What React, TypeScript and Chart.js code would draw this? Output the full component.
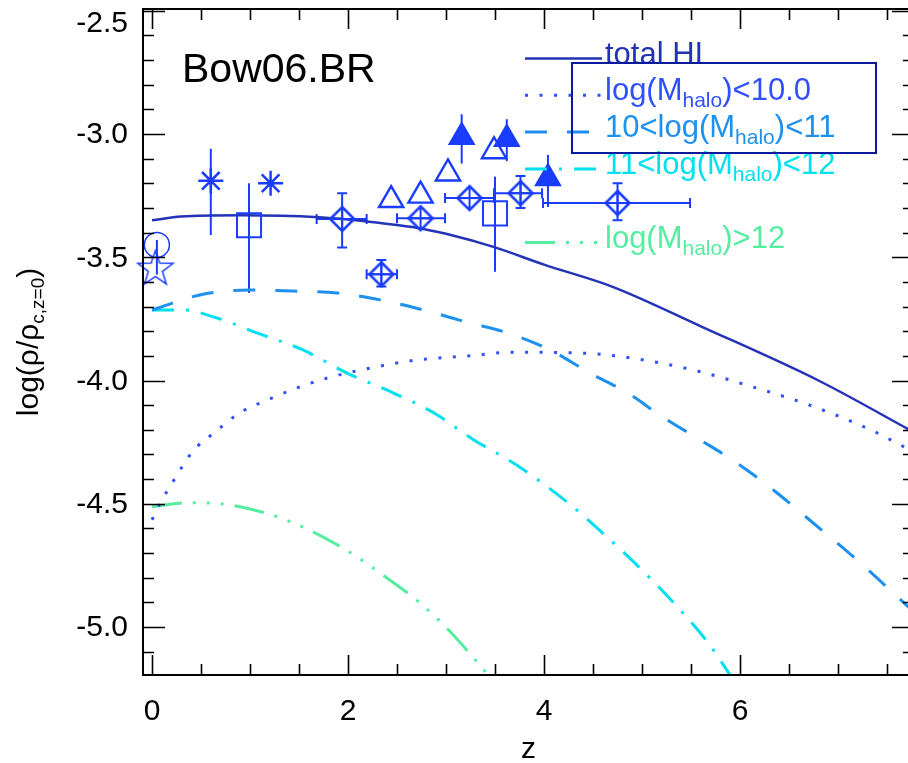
import React, { useEffect, useRef } from 'react';
import { Chart, registerables } from 'chart.js';

Chart.register(...registerables);

const FONT = '"Liberation Sans", Arial, Helvetica, sans-serif';

// Axis ranges and ticks
const zMin = -0.0918;
const zMax = 7.775;
const vMin = -5.1947;
const vMax = -2.4929;
const xMajorStep = 2;
const xMinorStep = 0.5;
const xTickValues = [0, 2, 4, 6];
const xTickLabels = ['0', '2', '4', '6'];
const yMajorStep = 0.5;
const yMinorStep = 0.1;
const yTickValues = [-2.5, -3.0, -3.5, -4.0, -4.5, -5.0];
const yTickLabels = ['-2.5', '-3.0', '-3.5', '-4.0', '-4.5', '-5.0'];

// Model curves
const totalZ = [0, 0.3, 0.9, 1.7, 2.2, 2.7, 3.0, 3.5, 4.0, 4.7, 5.6, 6.8, 7.775];
const totalV = [-3.35, -3.335, -3.33, -3.338, -3.355, -3.38, -3.405, -3.46, -3.53, -3.62, -3.78, -4.0, -4.21];

const lt10Z = [0, 0.08, 0.23, 0.41, 0.64, 0.9, 1.17, 1.48, 1.79, 2.22, 2.7, 3.32, 3.65, 4.44, 4.91, 5.52, 6.13, 6.71, 7.33, 7.775];
const lt10V = [-4.565, -4.5, -4.4, -4.29, -4.21, -4.13, -4.08, -4.03, -3.99, -3.95, -3.917, -3.897, -3.885, -3.89, -3.91, -3.957, -4.026, -4.1, -4.2, -4.29];

const m1011Z = [0, 0.18, 0.52, 1.0, 1.44, 1.89, 2.33, 2.77, 3.21, 3.65, 4.06, 4.47, 4.85, 5.21, 5.59, 5.97, 6.34, 6.71, 7.2, 7.775];
const m1011V = [-3.714, -3.69, -3.65, -3.633, -3.637, -3.645, -3.673, -3.714, -3.763, -3.81, -3.876, -3.97, -4.05, -4.148, -4.24, -4.335, -4.444, -4.566, -4.73, -4.94];

const m1112Z = [0, 0.32, 0.66, 1.07, 1.54, 1.99, 2.46, 2.87, 3.28, 3.72, 4.25, 4.64, 5.0, 5.36, 5.68, 5.9];
const m1112V = [-3.714, -3.714, -3.746, -3.807, -3.876, -3.97, -4.05, -4.13, -4.24, -4.343, -4.498, -4.634, -4.769, -4.918, -5.067, -5.195];

const gt12Z = [0, 0.28, 0.45, 0.8, 1.17, 1.57, 2.01, 2.38, 2.74, 3.06, 3.43];
const gt12V = [-4.512, -4.498, -4.496, -4.505, -4.539, -4.6, -4.695, -4.796, -4.904, -5.026, -5.195];

// Observational estimates
const starZ = [0.035];
const starV = [-3.54];

const circleZ = [0.05];
const circleV = [-3.45];
const circleLo = [-3.57];
const circleHi = [-3.43];

const asteriskZ = [0.6, 1.21];
const asteriskV = [-3.19, -3.2];
const asteriskLo = [-3.41, null];
const asteriskHi = [-3.06, null];

const squareZ = [0.99, 3.5];
const squareV = [-3.37, -3.322];
const squareLo = [-3.645, -3.559];
const squareHi = [-3.2, -3.173];

const diamondZ = [1.94, 2.34, 2.74, 3.24, 3.76, 4.75];
const diamondV = [-3.345, -3.569, -3.342, -3.26, -3.24, -3.28];
const diamondLo = [-3.46, -3.619, null, null, -3.3, -3.35];
const diamondHi = [-3.24, -3.511, null, null, -3.17, -3.2];
const diamondZLo = [1.68, 2.19, 2.5, 2.99, 3.49, 3.99];
const diamondZHi = [2.19, 2.5, 2.99, 3.49, 3.98, 5.49];

const openTriZ = [2.44, 2.74, 3.02, 3.49];
const openTriV = [-3.268, -3.25, -3.16, -3.07];

const fillTriZ = [3.16, 3.62, 4.04];
const fillTriV = [-3.012, -3.02, -3.18];
const fillTriLo = [-3.12, -3.11, -3.296];
const fillTriHi = [-2.92, -2.94, -3.085];

// Colours and line styles
const C_TOTAL = '#2233b8';
const C_LT10 = '#3050ff';
const C_1011 = '#1e90ee';
const C_1112 = '#00e0f0';
const C_GT12 = '#55eea0';
const C_DATA = '#1a3cff';
const C_BOX = '#0a1a9c';

const DASH_LT10 = [3, 11.5];
const DASH_1011 = [22, 20];
const DASH_1112 = [22, 12, 3, 12];
const DASH_GT12 = [30, 11, 3, 11, 3, 11, 3, 11];

const legendItems = [
  { parts: [{ t: 'total HI' }], color: C_TOTAL, dash: [] as number[], row: 0 },
  { parts: [{ t: 'log(M' }, { t: 'halo', sub: true }, { t: ')<10.0' }], color: C_LT10, dash: DASH_LT10, row: 1 },
  { parts: [{ t: '10<log(M' }, { t: 'halo', sub: true }, { t: ')<11' }], color: C_1011, dash: DASH_1011, row: 2 },
  { parts: [{ t: '11<log(M' }, { t: 'halo', sub: true }, { t: ')<12' }], color: C_1112, dash: DASH_1112, row: 3 },
  { parts: [{ t: 'log(M' }, { t: 'halo', sub: true }, { t: ')>12' }], color: C_GT12, dash: DASH_GT12, row: 5 },
];

type Part = { t: string; sub?: boolean };

const pts = (zs: number[], vs: number[]) => zs.map((z, i) => ({ x: z, y: vs[i] }));

function drawParts(ctx: CanvasRenderingContext2D, parts: Part[], x: number, y: number, size: number, subSize: number, drop: number, measureOnly = false) {
  let cx = x;
  for (const p of parts) {
    ctx.font = `${p.sub ? subSize : size}px ${FONT}`;
    if (!measureOnly) ctx.fillText(p.t, cx, y + (p.sub ? drop : 0));
    cx += ctx.measureText(p.t).width;
  }
  return cx - x;
}

function makeDiamondPlus(color: string) {
  const s = 32;
  const c = document.createElement('canvas');
  c.width = s;
  c.height = s;
  const g = c.getContext('2d')!;
  const h = s / 2;
  const r = 12;
  g.strokeStyle = color;
  g.lineWidth = 2.6;
  g.beginPath();
  g.moveTo(h, h - r);
  g.lineTo(h + r, h);
  g.lineTo(h, h + r);
  g.lineTo(h - r, h);
  g.closePath();
  g.stroke();
  g.lineWidth = 2;
  g.beginPath();
  g.moveTo(h, h - r);
  g.lineTo(h, h + r);
  g.moveTo(h - r, h);
  g.lineTo(h + r, h);
  g.stroke();
  return c;
}

function makeStar5(color: string) {
  const s = 44;
  const c = document.createElement('canvas');
  c.width = s;
  c.height = s;
  const g = c.getContext('2d')!;
  const h = s / 2;
  const R = 18.5;
  const r = R * 0.4;
  g.strokeStyle = color;
  g.lineWidth = 1.5;
  g.beginPath();
  for (let i = 0; i < 10; i++) {
    const a = -Math.PI / 2 + (i * Math.PI) / 5;
    const rr = i % 2 === 0 ? R : r;
    const px = h + rr * Math.cos(a);
    const py = h + 2 + rr * Math.sin(a);
    if (i === 0) g.moveTo(px, py);
    else g.lineTo(px, py);
  }
  g.closePath();
  g.stroke();
  return c;
}

type ErrGroup = {
  z: number[];
  v: number[];
  lo?: (number | null)[];
  hi?: (number | null)[];
  zlo?: (number | null)[];
  zhi?: (number | null)[];
  cap: number;
};

const errGroups: ErrGroup[] = [
  { z: circleZ, v: circleV, lo: circleLo, hi: circleHi, cap: 0 },
  { z: asteriskZ, v: asteriskV, lo: asteriskLo, hi: asteriskHi, cap: 0 },
  { z: squareZ, v: squareV, lo: squareLo, hi: squareHi, cap: 0 },
  { z: fillTriZ, v: fillTriV, lo: fillTriLo, hi: fillTriHi, cap: 0 },
  { z: diamondZ, v: diamondV, lo: diamondLo, hi: diamondHi, zlo: diamondZLo, zhi: diamondZHi, cap: 5 },
];

const errorBarPlugin = {
  id: 'errorBars',
  beforeDatasetsDraw(chart: any) {
    const { ctx, scales } = chart;
    const xs = scales.x;
    const ys = scales.y;
    ctx.save();
    ctx.strokeStyle = C_DATA;
    ctx.lineWidth = 2;
    for (const g of errGroups) {
      g.z.forEach((z, i) => {
        const px = xs.getPixelForValue(z);
        const py = ys.getPixelForValue(g.v[i]);
        const lo = g.lo ? g.lo[i] : null;
        const hi = g.hi ? g.hi[i] : null;
        if (lo != null && hi != null) {
          const y1 = ys.getPixelForValue(lo);
          const y2 = ys.getPixelForValue(hi);
          ctx.beginPath();
          ctx.moveTo(px, y1);
          ctx.lineTo(px, y2);
          if (g.cap) {
            ctx.moveTo(px - g.cap, y1);
            ctx.lineTo(px + g.cap, y1);
            ctx.moveTo(px - g.cap, y2);
            ctx.lineTo(px + g.cap, y2);
          }
          ctx.stroke();
        }
        const zl = g.zlo ? g.zlo[i] : null;
        const zh = g.zhi ? g.zhi[i] : null;
        if (zl != null && zh != null) {
          const x1 = xs.getPixelForValue(zl);
          const x2 = xs.getPixelForValue(zh);
          ctx.beginPath();
          ctx.moveTo(x1, py);
          ctx.lineTo(x2, py);
          if (g.cap) {
            ctx.moveTo(x1, py - g.cap);
            ctx.lineTo(x1, py + g.cap);
            ctx.moveTo(x2, py - g.cap);
            ctx.lineTo(x2, py + g.cap);
          }
          ctx.stroke();
        }
      });
    }
    ctx.restore();
  },
};

const framePlugin = {
  id: 'frame',
  afterDraw(chart: any) {
    const { ctx, chartArea: a, scales } = chart;
    const xs = scales.x;
    const ys = scales.y;
    ctx.save();

    // Frame
    ctx.strokeStyle = '#000';
    ctx.lineWidth = 2;
    ctx.setLineDash([]);
    ctx.strokeRect(a.left, a.top, a.right - a.left, a.bottom - a.top);

    // x ticks (inward, bottom and top)
    ctx.lineWidth = 1.6;
    for (let k = 0; k * xMinorStep <= zMax; k++) {
      const v = k * xMinorStep;
      const px = Math.round(xs.getPixelForValue(v)) + 0.5;
      const major = Math.abs(v / xMajorStep - Math.round(v / xMajorStep)) < 1e-6;
      const len = major ? 20 : 11;
      ctx.beginPath();
      ctx.moveTo(px, a.bottom);
      ctx.lineTo(px, a.bottom - len);
      ctx.moveTo(px, a.top);
      ctx.lineTo(px, a.top + len);
      ctx.stroke();
    }

    // y ticks (inward, left and right)
    const ky0 = Math.ceil(vMin / yMinorStep - 1e-6);
    const ky1 = Math.floor(vMax / yMinorStep + 1e-6);
    for (let k = ky0; k <= ky1; k++) {
      const v = k * yMinorStep;
      const py = Math.round(ys.getPixelForValue(v)) + 0.5;
      const major = Math.abs(v / yMajorStep - Math.round(v / yMajorStep)) < 1e-6;
      const len = major ? 22 : 11;
      ctx.beginPath();
      ctx.moveTo(a.left, py);
      ctx.lineTo(a.left + len, py);
      ctx.moveTo(a.right, py);
      ctx.lineTo(a.right - len, py);
      ctx.stroke();
    }

    // Tick labels
    ctx.fillStyle = '#000';
    ctx.font = `30px ${FONT}`;
    ctx.textAlign = 'right';
    ctx.textBaseline = 'middle';
    yTickValues.forEach((v, i) => {
      const py = Math.max(ys.getPixelForValue(v), a.top + 14);
      ctx.fillText(yTickLabels[i], a.left - 15, py + 1);
    });
    ctx.textAlign = 'center';
    xTickValues.forEach((v, i) => {
      ctx.fillText(xTickLabels[i], xs.getPixelForValue(v), a.bottom + 37);
    });

    // Axis titles
    ctx.fillText('z', (a.left + a.right) / 2, a.bottom + 75);

    const yTitle: Part[] = [{ t: 'log(ρ/ρ' }, { t: 'c,z=0', sub: true }, { t: ')' }];
    ctx.textAlign = 'left';
    ctx.textBaseline = 'alphabetic';
    const w = drawParts(ctx, yTitle, 0, 0, 30, 19, 6, true);
    ctx.save();
    ctx.translate(38, (a.top + a.bottom) / 2);
    ctx.rotate(-Math.PI / 2);
    drawParts(ctx, yTitle, -w / 2, 0, 30, 19, 6);
    ctx.restore();

    // Run label
    ctx.font = `41px ${FONT}`;
    ctx.fillText('Bow06.BR', 182, 82);

    // Legend
    const lx0 = 525;
    const lx1 = 602;
    const ly0 = 58.5;
    const dy = 36.8;
    legendItems.forEach((it) => {
      const ly = ly0 + it.row * dy;
      ctx.strokeStyle = it.color;
      ctx.lineWidth = it.row === 0 ? 2.5 : 3;
      ctx.setLineDash(it.dash);
      ctx.beginPath();
      ctx.moveTo(lx0, ly);
      ctx.lineTo(lx1, ly);
      ctx.stroke();
      ctx.setLineDash([]);
      ctx.fillStyle = it.color;
      drawParts(ctx, it.parts, 605, ly + 5, 31, 21, 7);
    });

    // Legend box
    ctx.strokeStyle = C_BOX;
    ctx.lineWidth = 2;
    ctx.strokeRect(572, 63, 304, 90);

    ctx.restore();
  },
};

export default function App() {
  const ref = useRef<HTMLCanvasElement>(null);

  useEffect(() => {
    document.body.style.margin = '0';
    const canvas = ref.current;
    if (!canvas) return;
    const diamondImg = makeDiamondPlus(C_DATA);
    const starImg = makeStar5(C_DATA);

    const curve = (label: string, zs: number[], vs: number[], color: string, dash: number[], width: number) => ({
      label,
      data: pts(zs, vs),
      showLine: true,
      borderColor: color,
      borderWidth: width,
      borderDash: dash,
      borderCapStyle: 'butt' as const,
      pointRadius: 0,
      pointHoverRadius: 0,
      cubicInterpolationMode: 'monotone' as const,
      fill: false,
    });

    const marks = (label: string, zs: number[], vs: number[], style: any, radius: number, filled: boolean, width = 2) => ({
      label,
      data: pts(zs, vs),
      showLine: false,
      pointStyle: style,
      pointRadius: radius,
      pointHoverRadius: radius,
      pointBorderColor: C_DATA,
      pointBackgroundColor: filled ? C_DATA : 'rgba(0,0,0,0)',
      pointBorderWidth: width,
      borderColor: C_DATA,
      backgroundColor: filled ? C_DATA : 'rgba(0,0,0,0)',
      clip: false as const,
    });

    const chart = new Chart(canvas, {
      type: 'scatter',
      data: {
        datasets: [
          marks('asterisks', asteriskZ, asteriskV, 'star', 12.5, false, 2.5),
          marks('squares', squareZ, squareV, 'rect', 17, false),
          marks('diamonds', diamondZ, diamondV, diamondImg, 12, false),
          marks('open triangles', openTriZ, openTriV, 'triangle', 14, false, 2.4),
          marks('filled triangles', fillTriZ, fillTriV, 'triangle', 14, true),
          marks('circle', circleZ, circleV, 'circle', 12.5, false, 1.5),
          marks('star', starZ, starV, starImg, 18, false),
          curve('total HI', totalZ, totalV, C_TOTAL, [], 2.5),
          curve('log(Mhalo)<10.0', lt10Z, lt10V, C_LT10, DASH_LT10, 3),
          curve('10<log(Mhalo)<11', m1011Z, m1011V, C_1011, DASH_1011, 3),
          curve('11<log(Mhalo)<12', m1112Z, m1112V, C_1112, DASH_1112, 3),
          curve('log(Mhalo)>12', gt12Z, gt12V, C_GT12, DASH_GT12, 3),
        ] as any,
      },
      options: {
        responsive: false,
        animation: false,
        devicePixelRatio: 1,
        events: [],
        layout: { autoPadding: false, padding: { left: 143, top: 9, right: 0, bottom: 88 } },
        scales: {
          x: { type: 'linear', min: zMin, max: zMax, display: false },
          y: { type: 'linear', min: vMin, max: vMax, display: false },
        },
        plugins: {
          legend: { display: false },
          tooltip: { enabled: false },
          title: { display: false },
        },
      },
      plugins: [errorBarPlugin, framePlugin],
    });

    return () => chart.destroy();
  }, []);

  return (
    <div style={{ position: 'fixed', left: 0, top: 0, width: 908, height: 763, overflow: 'hidden', background: '#fff' }}>
      <canvas ref={ref} width={914} height={763} style={{ display: 'block' }} />
    </div>
  );
}
